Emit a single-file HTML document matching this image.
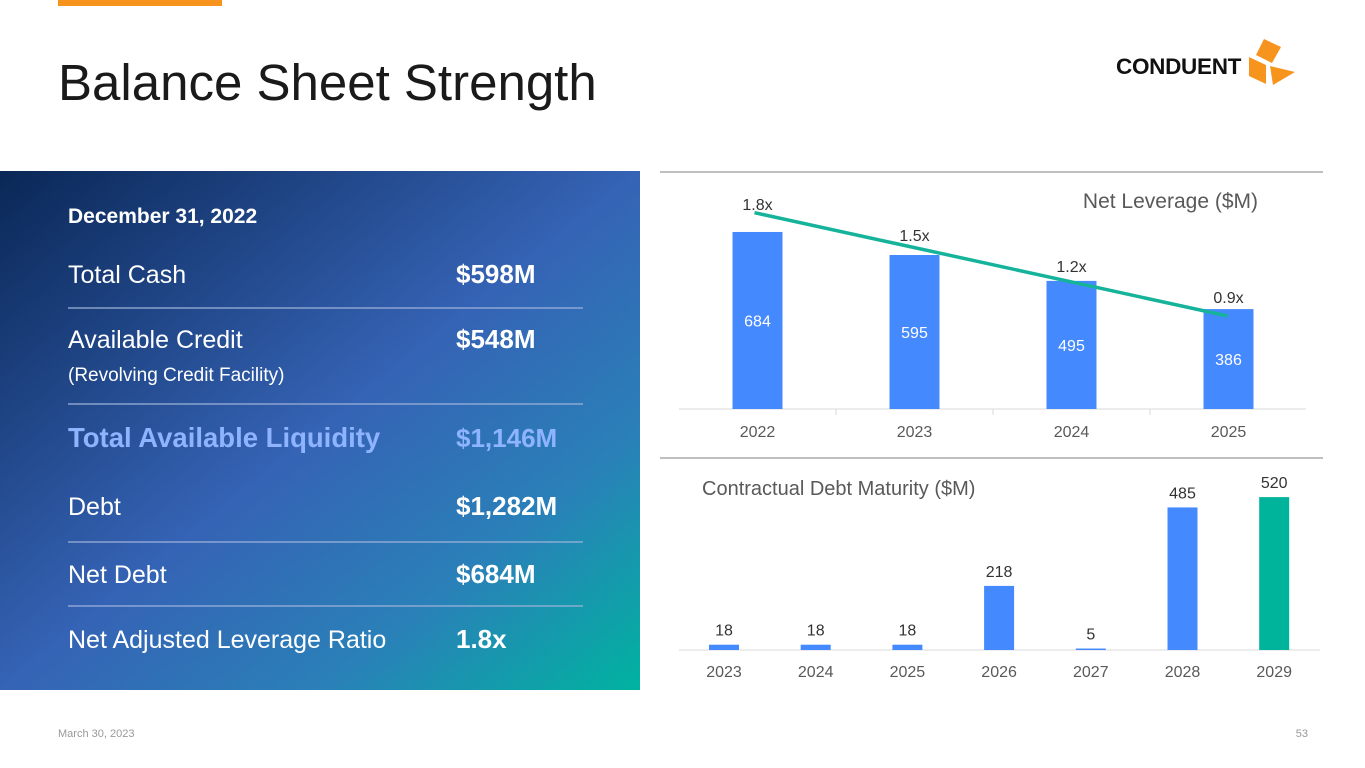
<!DOCTYPE html>
<html><head><meta charset="utf-8"><style>
html,body{margin:0;padding:0;background:#fff;}
svg{display:block;font-family:"Liberation Sans",Arial,sans-serif;}
</style></head><body>
<svg width="1365" height="768" viewBox="0 0 1365 768">
<defs>
<linearGradient id="pg" x1="0" y1="0" x2="1" y2="1">
<stop offset="0" stop-color="#0a2756"/>
<stop offset="0.5" stop-color="#3563b5"/>
<stop offset="0.75" stop-color="#2a80b8"/>
<stop offset="1" stop-color="#00b3a0"/>
</linearGradient>
</defs>
<rect x="58" y="0" width="164" height="6" fill="#f7941d"/>
<text x="58" y="100" font-size="51" fill="#1a1a1a">Balance Sheet Strength</text>
<g>
<text x="1116" y="74" font-size="22.5" font-weight="bold" fill="#111" letter-spacing="-0.3">CONDUENT</text>
<polygon points="1264,39 1281,47 1272,63 1256,55" fill="#f7941d"/>
<polygon points="1249,57 1266,65 1266,84 1249,76" fill="#f7941d"/>
<polygon points="1270,66 1295,72 1273,85" fill="#f7941d"/>
</g>
<g>
<rect x="0" y="171" width="640" height="519" fill="url(#pg)"/>
<g fill="#fff" font-size="25">
<text x="68" y="223" font-size="21" font-weight="bold">December 31, 2022</text>
<text x="68" y="283">Total Cash</text>
<text x="456" y="283" font-size="26" font-weight="bold">$598M</text>
<text x="68" y="348">Available Credit</text>
<text x="68" y="381" font-size="19">(Revolving Credit Facility)</text>
<text x="456" y="348" font-size="26" font-weight="bold">$548M</text>
<text x="68" y="447" font-size="27.5" font-weight="bold" fill="#8fb4ff">Total Available Liquidity</text>
<text x="456" y="447" font-size="26" font-weight="bold" fill="#8fb4ff">$1,146M</text>
<text x="68" y="515">Debt</text>
<text x="456" y="515" font-size="26" font-weight="bold">$1,282M</text>
<text x="68" y="583">Net Debt</text>
<text x="456" y="583" font-size="26" font-weight="bold">$684M</text>
<text x="68" y="648">Net Adjusted Leverage Ratio</text>
<text x="456" y="648" font-size="26" font-weight="bold">1.8x</text>
</g>
<g stroke="#9fb3d9" stroke-width="1.2">
<line x1="68" y1="308" x2="583" y2="308"/><line x1="68" y1="404" x2="583" y2="404"/>
<line x1="68" y1="542" x2="583" y2="542"/><line x1="68" y1="606" x2="583" y2="606"/>
</g>
</g>
<line x1="660" y1="172" x2="1323" y2="172" stroke="#aaa" stroke-width="1.5"/>
<line x1="660" y1="458" x2="1323" y2="458" stroke="#aaa" stroke-width="1.5"/>
<g id="c1">
<text x="1258" y="208" font-size="21" fill="#595959" text-anchor="end">Net Leverage ($M)</text>
<line x1="679" y1="409" x2="1306" y2="409" stroke="#d9d9d9"/>
</g>
<g id="c2">
<text x="702" y="495" font-size="20" fill="#595959">Contractual Debt Maturity ($M)</text>
<line x1="679" y1="650" x2="1320" y2="650" stroke="#d9d9d9"/>
</g>
<text x="58" y="737" font-size="11" fill="#999">March 30, 2023</text>
<text x="1308" y="737" font-size="11" fill="#999" text-anchor="end">53</text>
</svg>
<script>
const levYears=["2022","2023","2024","2025"];
const netDebt=[684,595,495,386];
const levRatio=[1.8,1.5,1.2,0.9];
const levLabels=["1.8x","1.5x","1.2x","0.9x"];
const matYears=["2023","2024","2025","2026","2027","2028","2029"];
const matValues=[18,18,18,218,5,485,520];
const NS="http://www.w3.org/2000/svg";
function mk(p,t,a,txt){const e=document.createElementNS(NS,t);for(const k in a)e.setAttribute(k,a[k]);if(txt!==undefined)e.textContent=txt;p.appendChild(e);return e;}
const c1=document.getElementById('c1');
const x1=i=>679+157*(i+0.5);
const y1=v=>409-v*0.2588;
const yr=v=>316-(v-0.9)*114.8;
const yl=v=>210+(1.8-v)*103.3;
netDebt.forEach((v,i)=>{
const b=mk(c1,'rect',{x:x1(i)-25,y:y1(v),width:50,height:409-y1(v),fill:'#4589ff'});


const t=mk(c1,'text',{x:x1(i),y:(y1(v)+409)/2+6,'font-size':16,fill:'#fff','text-anchor':'middle'},String(v));


const xl=mk(c1,'text',{x:x1(i),y:437,'font-size':16,fill:'#595959','text-anchor':'middle'},levYears[i]);


const rl=mk(c1,'text',{x:x1(i),y:yl(levRatio[i]),'font-size':16,fill:'#333','text-anchor':'middle'},levLabels[i]);


});
[1,2,3].forEach(i=>{const tk=mk(c1,'line',{x1:679+157*i,y1:409,x2:679+157*i,y2:415,stroke:'#d9d9d9'});

});
const pl=mk(c1,'polyline',{points:levRatio.map((v,i)=>(x1(i)-3+i*0.7)+','+yr(v)).join(' '),fill:'none',stroke:'#14b39a','stroke-width':3.5});


const c2=document.getElementById('c2');
const x2=i=>724+91.7*i;
const y2=v=>650-v*0.294;
matValues.forEach((v,i)=>{
const b=mk(c2,'rect',{x:x2(i)-15,y:y2(v),width:30,height:650-y2(v),fill:i===6?'#00b49c':'#4589ff'});


const t=mk(c2,'text',{x:x2(i),y:y2(v)-9,'font-size':16,fill:'#333','text-anchor':'middle'},String(v));


const xl=mk(c2,'text',{x:x2(i),y:677,'font-size':16,fill:'#595959','text-anchor':'middle'},matYears[i]);


});
</script>
</body></html>
